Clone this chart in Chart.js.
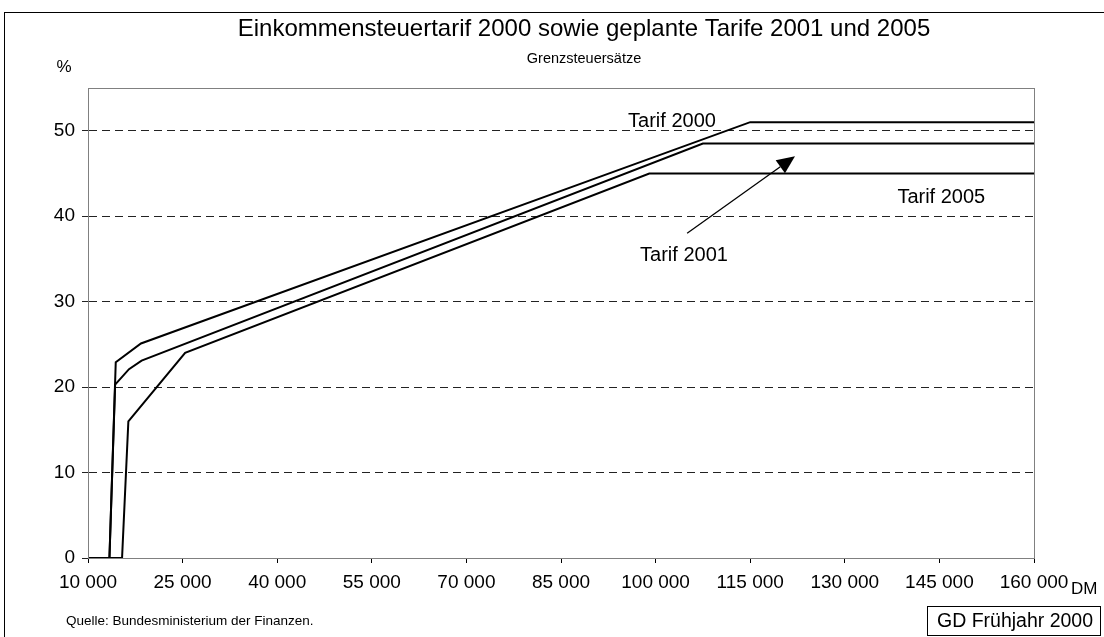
<!DOCTYPE html>
<html>
<head>
<meta charset="utf-8">
<script src="https://cdn.jsdelivr.net/npm/chart.js@4.4.1/dist/chart.umd.min.js"></script>
<style>
  html, body { margin: 0; padding: 0; background: #fff; }
  canvas { display: block; }
</style>
</head>
<body>
<canvas id="chart" width="1104" height="637"></canvas>
<script>
// Einkommen in DM / Grenzsteuersatz in %
const tarif2000X = [10000, 13400, 14400, 18400, 115000, 160000];
const tarif2000Y = [0, 0, 22.9, 25.1, 51, 51];
const tarif2001X = [10000, 13400, 14300, 16500, 18500, 107500, 160000];
const tarif2001Y = [0, 0, 20.3, 22.1, 23.1, 48.5, 48.5];
const tarif2005X = [10000, 15400, 16400, 25400, 99000, 160000];
const tarif2005Y = [0, 0, 16, 24, 45, 45];

const xTicks = [10000, 25000, 40000, 55000, 70000, 85000, 100000, 115000, 130000, 145000, 160000];
const yTicks = [0, 10, 20, 30, 40, 50];

const seriesLabels = ['Tarif 2000', 'Tarif 2005', 'Tarif 2001'];
const seriesLabelX = [102600, 145300, 104500];
const seriesLabelY = [51.1, 42.2, 35.4];
const arrowFrom = [105000, 38.0];
const arrowTo = [122100, 47.0];

const titleText = 'Einkommensteuertarif 2000 sowie geplante Tarife 2001 und 2005';
const subtitleText = 'Grenzsteuersätze';
const sourceText = 'Quelle: Bundesministerium der Finanzen.';
const stampText = 'GD Frühjahr 2000';

const toPoints = (xs, ys) => xs.map((x, i) => ({ x: x, y: ys[i] }));
const fmt = v => String(v).replace(/\B(?=(\d{3})+(?!\d))/g, ' ');
const FONT = 'Arial, "Liberation Sans", sans-serif';

const extras = {
    id: 'extras',
    beforeDraw(chart) {
        const { ctx } = chart;
        ctx.save();
        ctx.fillStyle = '#fff';
        ctx.fillRect(0, 0, chart.width, chart.height);
        ctx.restore();
    },
    afterDatasetsDraw(chart) {
        const { ctx, chartArea: a, scales: { x, y } } = chart;
        ctx.save();
        // plot area frame
        ctx.strokeStyle = '#808080';
        ctx.lineWidth = 1;
        ctx.strokeRect(a.left + 0.5, a.top + 0.5, a.right - a.left, a.bottom - a.top);

        // outer chart border
        ctx.strokeStyle = '#000';
        ctx.strokeRect(4.5, 12.5, chart.width + 10, chart.height + 10);

        // titles
        ctx.fillStyle = '#000';
        ctx.textAlign = 'center';
        ctx.textBaseline = 'middle';
        ctx.font = '24px ' + FONT;
        ctx.fillText(titleText, 584, 29);
        ctx.font = '14.5px ' + FONT;
        ctx.fillText(subtitleText, 584, 59);
        ctx.font = '17px ' + FONT;
        ctx.fillText('%', 64, 67);

        // series labels
        ctx.font = '20px ' + FONT;
        seriesLabels.forEach((t, i) => {
            ctx.fillText(t, x.getPixelForValue(seriesLabelX[i]), y.getPixelForValue(seriesLabelY[i]));
        });

        // arrow
        const x0 = x.getPixelForValue(arrowFrom[0]), y0 = y.getPixelForValue(arrowFrom[1]);
        const x1 = x.getPixelForValue(arrowTo[0]), y1 = y.getPixelForValue(arrowTo[1]);
        const ang = Math.atan2(y1 - y0, x1 - x0);
        const hl = 18, hw = 8;
        const bx = x1 - hl * Math.cos(ang), by = y1 - hl * Math.sin(ang);
        ctx.strokeStyle = '#000';
        ctx.lineWidth = 1.3;
        ctx.beginPath();
        ctx.moveTo(x0, y0);
        ctx.lineTo(bx, by);
        ctx.stroke();
        ctx.beginPath();
        ctx.moveTo(x1, y1);
        ctx.lineTo(bx + hw * Math.sin(ang), by - hw * Math.cos(ang));
        ctx.lineTo(bx - hw * Math.sin(ang), by + hw * Math.cos(ang));
        ctx.closePath();
        ctx.fill();

        // unit and footer
        ctx.font = '17px ' + FONT;
        ctx.textAlign = 'left';
        ctx.fillText('DM', 1071, 589);
        ctx.font = '13.5px ' + FONT;
        ctx.fillText(sourceText, 66, 621);

        ctx.lineWidth = 1;
        ctx.strokeRect(927.5, 606.5, 173, 29);
        ctx.font = '19.5px ' + FONT;
        ctx.textAlign = 'center';
        ctx.fillText(stampText, 1015, 621.5);
        ctx.restore();
    }
};

const lineStyle = {
    borderColor: '#000',
    borderWidth: 2,
    pointRadius: 0,
    showLine: true,
    fill: false,
    tension: 0
};

new Chart(document.getElementById('chart'), {
    type: 'scatter',
    data: {
        datasets: [
            Object.assign({ label: 'Tarif 2000', data: toPoints(tarif2000X, tarif2000Y) }, lineStyle),
            Object.assign({ label: 'Tarif 2001', data: toPoints(tarif2001X, tarif2001Y) }, lineStyle),
            Object.assign({ label: 'Tarif 2005', data: toPoints(tarif2005X, tarif2005Y) }, lineStyle)
        ]
    },
    options: {
        responsive: false,
        animation: false,
        layout: { padding: { top: 88, right: 70, left: 0, bottom: 0 } },
        plugins: {
            legend: { display: false },
            tooltip: { enabled: false },
            title: { display: false }
        },
        scales: {
            x: {
                type: 'linear',
                min: 10000,
                max: 160000,
                afterFit: s => { s.height = 79; },
                afterBuildTicks: s => { s.ticks = xTicks.map(v => ({ value: v })); },
                ticks: {
                    callback: v => fmt(v),
                    color: '#000',
                    font: { family: FONT, size: 19 },
                    padding: 8,
                    maxRotation: 0,
                    autoSkip: false
                },
                grid: { drawOnChartArea: false, drawTicks: true, tickLength: 5, color: '#000' },
                border: { color: '#000', width: 1 }
            },
            y: {
                type: 'linear',
                min: 0,
                max: 55,
                afterFit: s => { s.width = 88; },
                afterBuildTicks: s => { s.ticks = yTicks.map(v => ({ value: v })); },
                ticks: {
                    color: '#000',
                    font: { family: FONT, size: 19 },
                    padding: 7
                },
                grid: { color: '#222', tickLength: 6, tickBorderDash: [] },
                border: { color: '#000', width: 1, dash: [8, 5] }
            }
        }
    },
    plugins: [extras]
});
</script>
</body>
</html>
